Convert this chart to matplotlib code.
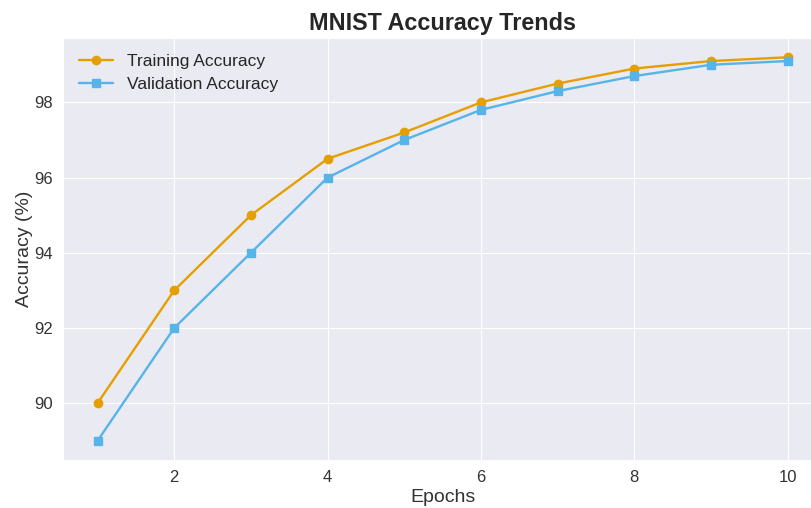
import numpy as np
import matplotlib
matplotlib.use("Agg")
import matplotlib.pyplot as plt
import seaborn as sns

epochs = [1, 2, 3, 4, 5, 6, 7, 8, 9, 10]
train_acc = [90.0, 93.0, 95.0, 96.5, 97.2, 98.0, 98.5, 98.9, 99.1, 99.2]
val_acc = [89.0, 92.0, 94.0, 96.0, 97.0, 97.8, 98.3, 98.7, 99.0, 99.1]

sns.set_style("darkgrid")
plt.rcParams['font.family'] = ['Liberation Sans', 'DejaVu Sans']

fig = plt.figure(figsize=(8.11, 5.08), dpi=100)
ax = fig.add_axes([0.0777, 0.0945, 0.936, 0.8305])

ax.plot(epochs, train_acc, marker='o', color='#E69F00', linewidth=1.7,
        markersize=6, label='Training Accuracy')
ax.plot(epochs, val_acc, marker='s', color='#56B4E9', linewidth=1.7,
        markersize=6, label='Validation Accuracy')

ax.set_title('MNIST Accuracy Trends', fontsize=16.8, fontweight='bold', pad=6)
ax.set_xlabel('Epochs', fontsize=14, color='#333333', labelpad=3)
ax.set_ylabel('Accuracy (%)', fontsize=14, color='#333333', labelpad=1)
ax.tick_params(labelsize=12, colors='#333333')
ax.set_xticks([2, 4, 6, 8, 10])
ax.set_yticks([90, 92, 94, 96, 98])
ax.legend(loc='upper left', fontsize=12.5, frameon=False, labelspacing=0.45)

fig.savefig('out.png', dpi=100)
